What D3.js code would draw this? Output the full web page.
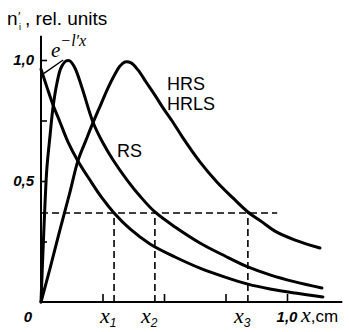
<!DOCTYPE html>
<html><head><meta charset="utf-8">
<script src="https://cdn.jsdelivr.net/npm/d3@7"></script>
<style>html,body{margin:0;padding:0;background:#fff;}svg{display:block;}</style>
</head><body>
<script>
// Data (x in cm, y in relative units)
const expX = [0,.024,.049,.077,.110,.150,.199,.248,.297,.362,.443,.545,.646,.748,.841,.931,1.033,1.146];
const expY = [.962,.888,.814,.744,.661,.583,.504,.430,.368,.302,.240,.186,.140,.103,.074,.054,.037,.021];
const rsX = [0,.008,.016,.024,.037,.049,.065,.081,.102,.118,.138,.167,.211,.252,.293,.350,.402,.463,.545,.646,.748,.841,.931,1.033,1.142];
const rsY = [0,.207,.401,.554,.690,.806,.905,.967,.996,.996,.967,.884,.744,.657,.587,.504,.438,.372,.310,.244,.190,.145,.112,.083,.058];
const hrsX = [0,.037,.077,.118,.150,.183,.211,.244,.272,.301,.321,.341,.366,.394,.427,.463,.496,.533,.577,.646,.715,.780,.841,.898,.951,1.033,1.134];
const hrsY = [0,.140,.298,.455,.583,.669,.740,.818,.884,.942,.975,.992,.988,.959,.909,.855,.802,.748,.678,.579,.496,.430,.372,.331,.293,.256,.223];
const yTicks = [0.25,0.5,0.75,1.0];
const xTicks = [0.25,0.5,0.75,1.0];
const yTickLabels = [{v:1.0,t:"1,0"},{v:0.5,t:"0,5"}];
const level = 0.368;           // 1/e level
const marks = [{v:0.297,s:"1"},{v:0.463,s:"2"},{v:0.841,s:"3"}];
const levelEnd = 0.96;

const W=349,H=332;
const svg=d3.select("body").append("svg").attr("width",W).attr("height",H);
svg.append("rect").attr("width",W).attr("height",H).attr("fill","#fff");

const x=d3.scaleLinear().domain([0,1]).range([41,287]);
const y=d3.scaleLinear().domain([0,1]).range([302,60]);

// axes
const ya=svg.append("g").attr("transform",`translate(${x(0)},0)`)
  .call(d3.axisRight(y).tickValues(yTicks).tickSize(6).tickSizeOuter(0).tickFormat(""));
ya.select(".domain").remove();
ya.selectAll("line").attr("stroke","#000").attr("stroke-width",1.6);
svg.append("line").attr("x1",x(0)).attr("x2",x(0)).attr("y1",y(1.1)).attr("y2",y(0))
  .attr("stroke","#000").attr("stroke-width",2);

const xa=svg.append("g").attr("transform",`translate(0,${y(0)})`)
  .call(d3.axisTop(x).tickValues(xTicks).tickSize(8).tickSizeOuter(0).tickFormat(""));
xa.select(".domain").remove();
xa.selectAll("line").attr("stroke","#000").attr("stroke-width",1.6);
svg.append("line").attr("x1",x(0)).attr("x2",x(1.225)).attr("y1",y(0)).attr("y2",y(0))
  .attr("stroke","#000").attr("stroke-width",2);

// dashed guides
const dash="7,4";
svg.append("line").attr("x1",x(0)).attr("x2",x(levelEnd)).attr("y1",y(level)).attr("y2",y(level))
  .attr("stroke","#000").attr("stroke-width",1.6).attr("stroke-dasharray",dash);
marks.forEach(m=>{
  svg.append("line").attr("x1",x(m.v)).attr("x2",x(m.v)).attr("y1",y(0)).attr("y2",y(level))
    .attr("stroke","#000").attr("stroke-width",1.6).attr("stroke-dasharray",dash);
});

// curves
const line=d3.line().x(d=>x(d[0])).y(d=>y(d[1])).curve(d3.curveCatmullRom.alpha(0.5));
[[expX,expY],[rsX,rsY],[hrsX,hrsY]].forEach(([xs,ys])=>{
  svg.append("path").datum(xs.map((v,i)=>[v,ys[i]])).attr("d",line)
    .attr("fill","none").attr("stroke","#000").attr("stroke-width",3)
    .attr("stroke-linejoin","round").attr("stroke-linecap","round");
});

// leader line for e^{-l'x}
svg.append("line").attr("x1",x(0.012)).attr("y1",y(0.945)).attr("x2",x(0.09)).attr("y2",y(1.0))
  .attr("stroke","#000").attr("stroke-width",1.4);

// texts
const sans="'Liberation Sans', Arial, sans-serif";
const serif="'Liberation Serif', 'Times New Roman', serif";
// title
svg.append("text").attr("x",7).attr("y",25).attr("font-family",sans).attr("font-size",19).text("n");
svg.append("text").attr("x",18).attr("y",21).attr("font-family",sans).attr("font-size",13).text("′");
svg.append("text").attr("x",19).attr("y",30).attr("font-family",sans).attr("font-size",9).text("i");
svg.append("text").attr("x",25).attr("y",25).attr("font-family",sans).attr("font-size",19).text(", rel. units");

// y tick labels
yTickLabels.forEach(l=>{
  svg.append("text").attr("x",x(0)-7).attr("y",y(l.v)+5).attr("text-anchor","end")
    .attr("font-family",sans).attr("font-style","italic").attr("font-weight","bold").attr("font-size",15).text(l.t);
});
svg.append("text").attr("x",x(0)-9).attr("y",y(0)+20).attr("text-anchor","end")
  .attr("font-family",sans).attr("font-style","italic").attr("font-weight","bold").attr("font-size",15).text("0");

// x labels
marks.forEach(m=>{
  const t=svg.append("text").attr("x",x(m.v)-14).attr("y",y(0)+21).attr("font-family",serif)
    .attr("font-style","italic").attr("font-size",22);
  t.append("tspan").text("x");
  t.append("tspan").attr("font-family",sans).attr("font-size",12).attr("dy",4).text(m.s);
});
svg.append("text").attr("x",x(1.0)).attr("y",y(0)+20).attr("text-anchor","middle")
  .attr("font-family",sans).attr("font-style","italic").attr("font-weight","bold").attr("font-size",15).text("1,0");
const xc=svg.append("text").attr("x",301).attr("y",y(0)+20).attr("font-family",serif)
  .attr("font-style","italic").attr("font-size",22);
xc.append("tspan").text("x");
xc.append("tspan").attr("font-family",sans).attr("font-style","normal").attr("font-size",17).text(",cm");

// curve labels
svg.append("text").attr("x",167).attr("y",90).attr("font-family",sans).attr("font-size",18).text("HRS");
svg.append("text").attr("x",167).attr("y",110).attr("font-family",sans).attr("font-size",18).text("HRLS");
svg.append("text").attr("x",117).attr("y",157).attr("font-family",sans).attr("font-size",18).text("RS");

// e^{-l'x}
const el=svg.append("text").attr("x",51).attr("y",57).attr("font-family",serif)
  .attr("font-style","italic").attr("font-size",21);
el.append("tspan").text("e");
el.append("tspan").attr("font-size",16).attr("dy",-11).text("−l′x");
</script>
</body></html>
